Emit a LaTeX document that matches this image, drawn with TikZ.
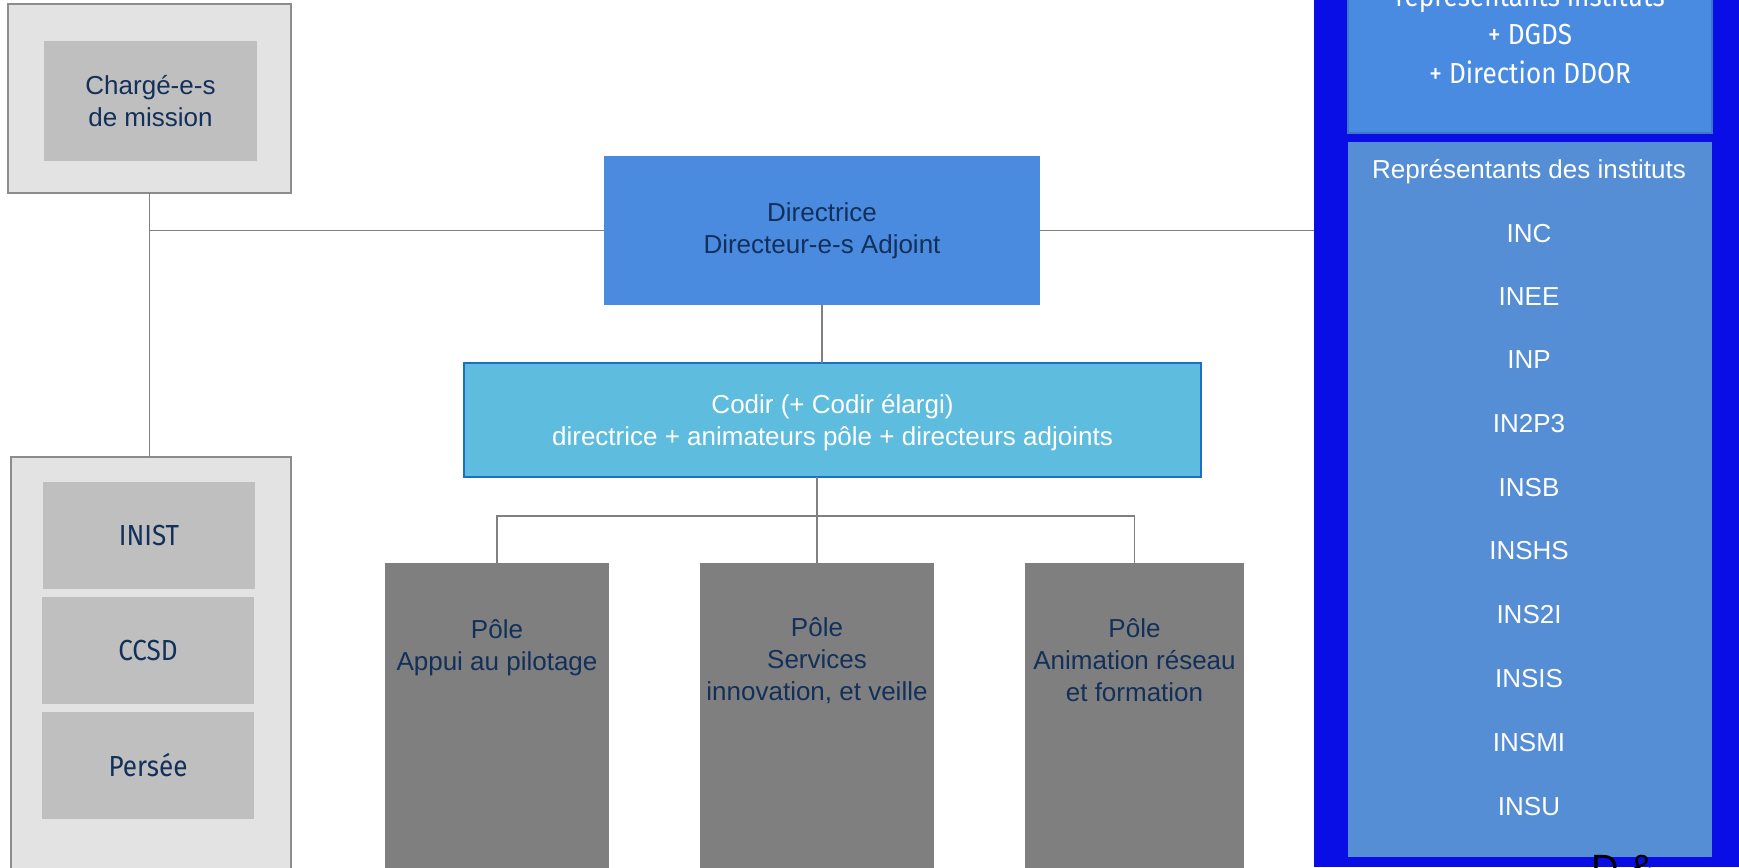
\documentclass[tikz,border=0pt]{standalone}
\usepackage{fontspec}
\setmainfont{Liberation Sans}
\newfontfamily\condfont{Fira Sans}[FakeStretch=0.9]
\definecolor{navytxt}{RGB}{19,48,90}
\definecolor{dirblue}{RGB}{74,139,224}
\definecolor{codirfill}{RGB}{94,188,222}
\definecolor{codirline}{RGB}{26,112,196}
\definecolor{polegray}{RGB}{127,127,127}
\definecolor{outergray}{RGB}{227,227,227}
\definecolor{outerline}{RGB}{140,140,140}
\definecolor{innergray}{RGB}{191,191,191}
\definecolor{panelblue}{RGB}{10,14,230}
\definecolor{topbox}{RGB}{74,139,226}
\definecolor{topboxline}{RGB}{60,120,200}
\definecolor{listbox}{RGB}{85,142,213}
\definecolor{connc}{RGB}{128,128,128}
\begin{document}
\begin{tikzpicture}[x=1pt,y=-1pt,
  bx/.style={rectangle, inner sep=0pt, outer sep=0pt, anchor=north west, align=center},
  txt/.style={font=\fontsize{26}{32}\selectfont},
  ctxt/.style={font=\condfont\fontsize{29}{38}\selectfont},
  conn/.style={draw=connc, line width=1.8pt},
  outer/.style={bx, fill=outergray, draw=outerline, line width=1.2pt},
  inner/.style={bx, fill=innergray, text=navytxt},
  pole/.style={bx, fill=polegray},
  ptxt/.style={inner sep=0pt, text=navytxt, txt, align=center},
  wlab/.style={inner sep=0pt, text=white, txt, anchor=center}
]
\useasboundingbox (0,0) rectangle (1739,867);
\clip (0,0) rectangle (1739,867);

% left column
\node[outer, minimum width=283, minimum height=189] (charge) at (8,4) {};
\node[inner, txt, minimum width=213, minimum height=120] (chargein) at (44,41) {Chargé-e-s\\de mission};
\node[outer, minimum width=280, minimum height=440] (lowleft) at (11,457) {};
\node[inner, ctxt, minimum width=212, minimum height=107] (inist) at (43,482) {INIST};
\node[inner, ctxt, minimum width=212, minimum height=107] (ccsd) at (42,597) {CCSD};
\node[inner, ctxt, minimum width=212, minimum height=107] (persee) at (42,712) {Persée};

% centre
\node[bx, fill=dirblue, text=navytxt, txt, minimum width=436, minimum height=149] (dir) at (604,156) {Directrice\\Directeur-e-s Adjoint};
\node[bx, fill=codirfill, draw=codirline, line width=2.5pt, minimum width=737, minimum height=114] (codir) at (464,363) {};
\node[inner sep=0pt, text=white, txt, align=center] (codirt) at (832.5,423) {Codir (+ Codir élargi)\\directrice + animateurs pôle + directeurs adjoints};

\node[pole, minimum width=224, minimum height=330] (pole1) at (385,563) {};
\node[pole, minimum width=234, minimum height=330] (pole2) at (700,563) {};
\node[pole, minimum width=219, minimum height=330] (pole3) at (1025,563) {};
\node[ptxt] (p1t) at (497,648) {Pôle\\Appui au pilotage};
\node[ptxt] (p2t) at (817,661) {Pôle\\Services\\innovation, et veille};
\node[ptxt] (p3t) at (1134.5,660) {Pôle\\Animation réseau\\et formation};

% right panel
\node[bx, fill=panelblue, minimum width=425, minimum height=867] (panel) at (1314,0) {};
\node[bx, fill=topbox, draw=topboxline, line width=2pt, minimum width=364, minimum height=153] (topb) at (1348,-20) {};
\node[bx, fill=listbox, minimum width=364, minimum height=715] (listb) at (1348,142) {};
\node[inner sep=0pt, text=white, ctxt, anchor=base] (t1) at (1530,7) {représentants instituts};
\node[inner sep=0pt, text=white, ctxt, anchor=base] (t2) at (1530,45) {+ DGDS};
\node[inner sep=0pt, text=white, ctxt, anchor=base] (t3) at (1530,83) {+ Direction DDOR};

\node[wlab] (rep) at (1529,172) {Représentants des instituts};
\node[wlab] (i1) at (1529,234) {INC};
\node[wlab] (i2) at (1529,297) {INEE};
\node[wlab] (i3) at (1529,360) {INP};
\node[wlab] (i4) at (1529,424) {IN2P3};
\node[wlab] (i5) at (1529,488) {INSB};
\node[wlab] (i6) at (1529,551) {INSHS};
\node[wlab] (i7) at (1529,615) {INS2I};
\node[wlab] (i8) at (1529,679) {INSIS};
\node[wlab] (i9) at (1529,743) {INSMI};
\node[wlab] (i10) at (1529,807) {INSU};

\node[inner sep=0pt, anchor=north west, font=\fontsize{38}{44}\selectfont, text=black] (frag) at (1591,855) {D \&};

% connectors
\coordinate (hb) at (0,516);
\draw[conn] (charge.south) -- (charge.south |- lowleft.north);
\draw[conn] (charge.south |- dir.west) -- (dir.west);
\draw[conn] (dir.east) -- (dir.east -| panel.west);
\draw[conn] (dir.south) -- (dir.south |- codir.north);
\draw[conn] (pole2.north |- codir.south) -- (pole2.north);
\draw[conn] (pole1.north) -- (pole1.north |- hb) -- (pole3.north |- hb) -- (pole3.north);
\end{tikzpicture}
\end{document}
